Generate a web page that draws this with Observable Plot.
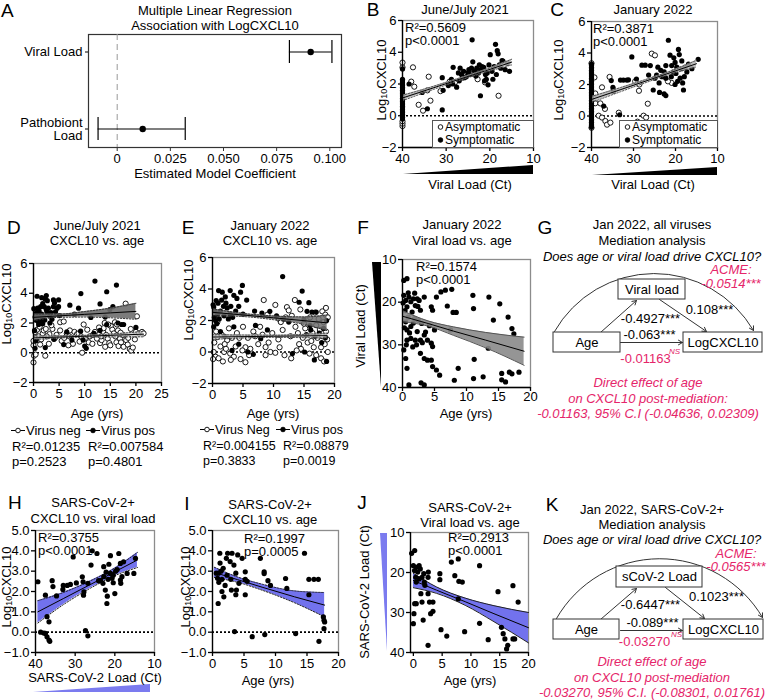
<!DOCTYPE html>
<html><head><meta charset="utf-8">
<script src="https://cdn.jsdelivr.net/npm/d3@7"></script>
<script src="https://cdn.jsdelivr.net/npm/@observablehq/plot@0.6"></script>
<style>
html,body{margin:0;padding:0;background:#fff;}
#root{position:relative;width:768px;height:700px;overflow:hidden;font-family:'Liberation Sans',Arial,sans-serif;font-size:13px;color:#000;}
.t{position:absolute;white-space:nowrap;line-height:13px;}
.pink{color:#e5256a;}
.legbox{position:absolute;border:1px solid #555;background:#fff;box-sizing:border-box;font-size:12px;line-height:13px;padding:0 0 0 4px;white-space:nowrap;}
</style></head><body><div id="root"></div>
<script>
const W = 768, H = 700;
const FONT = "'Liberation Sans', Arial, sans-serif";
const root = document.getElementById("root");

// ---------------- DATA ----------------
// Panel A
const predictorsA = ["Viral Load", "Pathobiont Load"];
const predictorLabelsA = ["Viral Load", "Pathobiont\nLoad"];
const estimateA = [0.091, 0.012];
const ciLowA = [0.081, -0.009];
const ciHighA = [0.101, 0.032];

// Panel B: [Ct, log10 CXCL10]
const bSymptomatic = [[38.5,2.0],[35.5,1.47],[34.3,0.44],[30.9,0.37],[30.9,2.4],[30.7,1.6],[29.5,1.9],[28.4,3.05],[28.8,2.3],[28.5,2.0],[27.6,1.8],[27.0,2.2],[26.5,2.6],[26.0,2.8],[25.4,2.46],[25.0,2.7],[24.8,2.9],[24.5,2.6],[24.05,4.78],[23.9,3.4],[23.5,2.8],[23.2,2.5],[23.0,3.0],[22.6,2.7],[22.15,1.26],[22.0,2.9],[21.8,3.1],[21.4,3.05],[21.0,2.6],[20.8,2.3],[20.4,1.95],[20.2,3.2],[19.9,3.85],[19.5,2.8],[19.0,3.1],[18.7,4.5],[18.5,2.6],[18.3,4.1],[18.1,3.9],[17.8,3.2],[17.5,3.0],[17.2,3.47],[17.0,3.45],[16.5,2.9],[16.0,3.3],[15.5,2.8],[26.8,3.0],[24.2,3.0],[22.4,3.2],[21.2,2.2],[19.3,2.3],[20.6,2.7],[25.8,2.4],[27.2,2.7]];
const bAsymptomatic = [[37.6,3.05],[38.0,2.15],[37.3,1.83],[34.0,2.46],[36.3,0.69],[35.3,0.32],[33.6,0.95],[34.3,1.6],[31.3,1.55],[28.0,2.1],[26.2,2.4],[24.0,2.65],[21.1,2.1],[18.0,1.26],[22.8,2.3],[29.2,2.15]];
const bUndetectedSym = [-0.2,-0.1,0.0,0.1,0.2,0.3,0.4,0.5,0.6,0.7,0.8,0.9,1.0,1.1,1.2,1.3,1.4,1.5,1.6,1.7,1.8,1.9,2.0,2.1,2.2,2.3,2.95];
const bUndetectedAsym = [-0.65,-0.5,-0.35,3.05,3.35];

// Panel C
const cSymptomatic = [[37.1,0.63],[35.3,2.25],[34.9,1.82],[34.8,1.7],[34.8,1.57],[33.3,0.08],[33.1,2.28],[32.4,2.28],[31.6,2.28],[31.2,2.3],[30.4,3.75],[29.3,2.35],[28.0,3.23],[27.2,3.23],[26.4,2.6],[26.0,3.2],[25.3,1.65],[24.9,2.4],[24.5,2.6],[23.9,2.1],[23.8,1.5],[23.2,2.5],[22.7,2.8],[22.3,3.2],[22.3,2.4],[21.7,4.81],[21.3,3.86],[20.9,3.2],[20.5,2.8],[20.1,3.4],[20.1,2.0],[19.7,3.1],[19.3,4.23],[19.1,3.9],[18.9,2.4],[18.5,3.5],[18.3,2.1],[18.1,1.65],[17.7,3.1],[17.3,2.8],[16.9,3.3],[16.1,3.0],[14.6,3.6],[22.3,1.3],[22.7,1.4],[21.0,2.5],[19.9,2.7],[18.7,3.0],[17.9,2.5],[23.5,2.9],[24.2,3.1],[20.4,3.7],[19.5,2.2]];
const cAsymptomatic = [[39.3,2.45],[39.1,1.43],[37.5,1.82],[39.1,0.81],[37.9,0.8],[36.8,0.45],[38.3,0.02],[37.5,-0.1],[36.7,-0.32],[36.3,-0.55],[35.5,-0.42],[35.7,2.48],[33.5,0.21],[29.6,2.2],[29.05,-0.36],[28.7,1.6],[28.6,2.0],[27.6,0.02],[27.0,-0.1],[26.6,0.78],[25.65,3.96],[24.9,3.85],[20.9,2.1],[21.8,2.2]];
const cUndetectedSym = [-0.7,-0.6,-0.5,-0.4,-0.3,-0.2,-0.1,0.0,0.1,0.2,0.3,0.4,0.5,0.6,0.7,0.8,0.9,1.0,1.1,1.2,1.3,1.4,1.5,1.6,1.7,1.8,1.9,2.0,2.1,2.2,2.3,2.4,2.5,2.6,2.7,2.8,2.9,3.0,3.1,3.2,3.3];
const cUndetectedAsym = [-0.75,3.35];

// Panel D: [age, log10 CXCL10]
const dVirusPos = [[0.06,2.96],[0.3,2.4],[0.6,2.7],[0.8,3.0],[1.2,2.5],[1.3,2.05],[1.4,3.1],[1.6,2.6],[1.8,3.3],[2.1,3.1],[2.3,3.6],[2.5,2.9],[2.6,2.75],[2.7,3.5],[2.9,3.0],[3.1,2.5],[3.6,2.25],[3.9,3.1],[4.1,3.35],[4.3,2.75],[4.6,3.0],[4.9,3.1],[5.1,2.5],[0.7,3.8],[1.6,3.7],[2.5,3.85],[3.9,3.55],[4.9,3.55],[0.4,2.2],[0.9,2.3],[1.0,1.9],[1.5,2.2],[2.0,2.4],[0.2,1.5],[0.5,0.8],[0.3,0.3],[1.8,1.95],[2.3,0.35],[4.0,0.9],[5.9,0.55],[6.5,1.4],[7.5,0.85],[7.1,3.2],[8.8,3.0],[9.2,1.45],[9.25,3.98],[9.7,0.85],[10.0,0.45],[10.3,0.3],[11.2,2.37],[12.0,4.82],[13.0,3.28],[14.3,4.1],[14.9,2.9],[15.5,3.1],[16.2,4.55],[16.5,2.0],[17.2,1.9],[17.6,1.9],[20.0,1.7],[14.0,2.4],[14.3,1.9],[13.0,1.5],[3.2,2.0],[1.1,2.8],[0.4,2.6],[0.9,2.1],[3.4,2.7],[2.2,2.2],[8.0,2.6],[11.8,1.3]];
const dVirusNeg = [[0.0,-0.65],[0.1,-0.2],[0.4,-0.12],[2.3,-0.2],[0.0,0.5],[0.0,0.8],[0.3,1.4],[0.7,1.55],[1.2,1.75],[1.8,1.3],[3.1,1.25],[3.7,1.6],[4.0,0.95],[4.5,1.2],[5.2,2.05],[5.9,2.1],[5.2,1.5],[6.5,1.3],[7.1,1.5],[8.0,1.4],[8.5,1.25],[9.0,0.75],[9.5,0.0],[10.0,0.95],[10.5,1.55],[11.0,1.1],[11.6,1.2],[12.4,0.95],[13.0,0.65],[13.3,0.85],[13.6,1.4],[13.7,1.65],[13.9,2.0],[14.2,1.2],[14.5,0.95],[14.8,0.65],[15.1,1.8],[15.4,1.55],[15.7,1.3],[16.0,1.1],[16.2,0.7],[16.6,0.45],[16.9,0.95],[17.1,0.7],[17.5,1.2],[17.6,0.4],[18.0,3.3],[18.1,0.85],[18.4,0.55],[18.8,0.25],[19.1,0.15],[19.4,0.35],[20.0,1.4],[20.2,2.45],[20.6,1.3],[21.2,1.4],[21.5,1.3],[0.5,1.0],[1.0,1.1],[1.5,0.9],[2.0,1.5],[2.6,1.1],[3.0,0.6],[3.5,1.85],[4.2,1.0],[5.5,0.8],[6.0,1.0],[7.0,1.1],[7.7,0.6],[8.8,1.3],[9.8,1.9],[10.8,0.7],[11.5,0.6],[12.0,1.4],[12.8,1.7],[14.0,0.4],[15.0,0.5],[16.5,1.5],[17.0,1.35],[18.5,1.0],[19.0,1.6],[19.8,0.9],[13.2,1.1],[14.6,1.9],[15.9,2.05],[16.3,1.9],[9.3,1.1],[6.8,0.5],[2.4,1.6],[1.3,0.55]];

// Panel E
const eVirusPos = [[0.2,2.85],[0.6,3.27],[1.0,3.9],[1.6,3.8],[2.1,3.5],[2.9,3.9],[3.5,3.6],[4.0,3.4],[4.6,3.8],[4.9,4.23],[5.6,3.3],[0.8,2.4],[1.3,2.6],[1.9,2.3],[2.4,2.8],[2.9,2.4],[0.2,1.6],[1.3,1.3],[3.5,1.6],[6.9,2.6],[0.1,3.0],[0.4,2.6],[0.5,2.0],[0.9,3.1],[1.1,2.1],[1.5,3.3],[1.8,2.9],[2.2,3.1],[2.6,2.1],[3.0,2.9],[3.3,2.2],[3.8,2.6],[4.3,2.9],[5.0,2.4],[5.8,0.0],[6.7,-0.15],[7.05,1.69],[7.9,0.84],[8.1,2.47],[9.4,2.58],[11.5,4.79],[11.7,2.1],[13.1,-0.1],[14.2,3.16],[14.7,3.87],[15.0,2.05],[15.1,0.0],[15.5,2.58],[15.8,3.13],[16.0,1.68],[16.3,2.54],[16.7,-0.5],[17.0,2.54],[18.7,2.0],[18.7,-0.6],[17.5,1.2],[16.8,1.0],[18.2,1.5],[18.5,0.9],[17.9,0.6],[16.1,1.4],[15.4,1.1],[12.5,1.9],[10.5,2.3],[9.0,1.4],[0.3,2.2],[0.7,1.8],[2.0,1.0],[4.3,0.5],[3.2,0.1]];
const eVirusNeg = [[0.2,0.0],[0.5,-0.3],[1.0,-0.4],[1.3,0.35],[1.9,0.0],[2.9,-0.1],[3.5,-0.3],[4.6,-0.45],[5.4,-0.65],[0.8,0.95],[2.4,0.75],[3.8,0.35],[4.0,1.2],[5.4,0.3],[6.7,1.3],[0.8,1.9],[0.3,0.6],[0.6,1.3],[1.5,1.1],[2.0,0.5],[2.7,1.5],[3.2,0.9],[4.4,0.9],[5.0,1.6],[5.8,0.9],[6.2,0.2],[7.0,1.0],[7.5,0.5],[8.4,3.3],[8.7,0.31],[8.7,-0.2],[9.0,2.37],[9.5,0.0],[10.3,-0.05],[10.3,2.99],[10.9,2.1],[11.0,0.3],[12.0,2.2],[12.2,2.85],[12.5,2.64],[12.9,-0.4],[13.5,3.3],[14.2,0.5],[14.5,0.2],[15.9,-0.1],[17.4,2.1],[17.8,-0.4],[17.8,0.3],[18.0,2.58],[18.3,-0.6],[18.5,2.37],[18.9,0.0],[7.8,1.6],[8.2,1.1],[9.8,1.2],[10.8,0.8],[11.5,1.4],[12.8,1.0],[13.6,1.6],[14.0,1.2],[14.8,0.9],[15.2,1.5],[15.6,0.6],[16.0,2.2],[16.4,1.2],[16.6,0.3],[17.0,1.7],[17.2,0.9],[17.6,1.4],[18.0,1.0],[18.2,1.9],[18.4,0.5],[18.6,1.3],[18.8,0.8],[17.0,-0.2],[16.2,0.7],[15.0,1.8],[13.8,0.1],[11.8,-0.2],[9.2,0.6],[6.0,-0.2],[3.0,-0.5],[1.7,-0.6],[0.1,-0.45],[4.9,0.1],[2.2,0.2],[11.2,1.9],[13.0,2.3],[14.4,2.7],[16.8,2.5],[18.9,2.2],[18.6,2.8]];

// Panel F: [age, Ct]
const fAgeCt = [[0.2,14.9],[0.7,14.5],[0.2,18.4],[0.5,19.6],[0.7,21.1],[1.0,18.8],[1.3,19.9],[1.7,19.2],[2.0,20.8],[2.3,19.2],[2.6,19.6],[2.8,21.9],[3.4,18.8],[0.5,24.6],[0.7,26.5],[1.3,25.7],[1.7,24.9],[2.3,26.9],[2.8,28.9],[3.4,27.7],[3.9,28.9],[4.5,29.6],[4.7,30.4],[0.7,28.9],[1.3,28.5],[2.0,28.9],[2.8,32.0],[3.4,33.2],[3.9,33.6],[0.2,31.2],[0.5,33.2],[0.7,35.5],[1.0,39.4],[2.9,38.9],[3.4,39.4],[4.5,33.6],[4.7,35.1],[5.3,35.9],[5.8,37.1],[4.5,21.1],[4.7,21.9],[5.3,18.8],[6.0,17.6],[6.7,17.2],[7.7,17.0],[7.0,20.9],[7.9,22.4],[8.4,22.4],[7.5,26.5],[8.1,38.3],[8.7,35.5],[11.0,18.4],[11.1,21.5],[11.2,33.4],[11.1,37.9],[12.6,37.5],[13.4,30.8],[13.5,18.8],[14.2,24.2],[15.2,20.4],[15.5,36.7],[15.5,38.2],[16.5,23.5],[17.1,26.2],[17.4,27.4],[16.7,36.4],[17.1,36.8],[18.2,36.4],[16.1,38.7],[0.1,20.2],[0.4,22.0],[0.9,23.5],[1.5,22.3],[1.9,23.8],[2.5,24.3],[3.0,25.0],[0.3,26.0],[1.1,27.2],[1.6,30.5],[2.2,30.0],[3.1,29.5],[3.6,27.0],[0.9,17.8],[1.9,17.9],[2.4,21.0],[0.6,30.0],[4.2,25.5],[5.0,26.5]];

// Panel H: [Ct, log10 CXCL10]
const hCtCxcl = [[39.4,2.48],[38.7,0.0],[37.9,-0.04],[37.5,1.82],[37.1,0.76],[36.6,0.51],[37.5,-0.06],[37.1,-0.23],[36.6,-0.39],[36.4,-0.45],[35.8,2.53],[35.6,2.24],[34.7,1.78],[33.0,2.3],[33.1,2.1],[32.0,2.3],[31.2,2.35],[30.5,3.7],[29.7,2.42],[28.2,2.72],[28.0,2.48],[27.8,1.98],[27.9,1.82],[27.4,0.08],[26.8,-0.18],[26.8,2.4],[26.0,3.3],[25.7,4.0],[24.5,3.87],[24.1,2.53],[23.6,2.53],[22.8,3.22],[22.8,2.73],[22.4,2.07],[22.2,2.95],[22.0,1.41],[21.9,1.77],[21.5,3.34],[21.1,3.76],[21.1,2.89],[20.7,2.65],[20.4,2.8],[20.4,2.43],[20.0,1.9],[19.4,3.08],[19.0,3.87],[18.6,3.38],[18.6,2.56],[18.5,2.4],[18.2,2.73],[17.8,3.46],[16.9,2.89],[15.2,2.89],[14.8,3.63],[21.7,2.6],[19.8,3.0],[23.0,2.4]];

// Panel I: [age, log10 CXCL10]
const iAgeCxcl = [[0.9,1.41],[0.95,2.9],[0.8,2.65],[1.16,3.88],[1.2,3.4],[1.35,3.0],[1.5,2.6],[1.5,2.0],[1.7,3.14],[1.8,1.74],[2.0,2.3],[2.2,3.63],[2.3,2.8],[2.4,3.88],[2.8,3.47],[2.9,2.6],[3.0,2.07],[3.1,3.88],[3.4,3.3],[3.7,2.9],[3.8,2.07],[4.0,3.8],[3.5,0.03],[4.2,2.4],[3.7,1.84],[4.7,3.63],[5.2,2.97],[5.2,2.6],[5.2,1.84],[5.5,2.5],[6.3,-0.22],[7.6,3.63],[8.2,2.97],[8.2,2.88],[8.3,-0.12],[8.8,2.53],[9.2,2.3],[11.6,2.64],[11.8,2.15],[13.2,-0.07],[14.6,3.88],[15.3,2.6],[15.3,1.84],[16.1,2.6],[16.8,2.6],[16.9,-0.45],[17.6,0.75],[17.7,0.58],[17.8,0.5],[17.7,0.17],[0.6,2.9],[1.0,2.45]];

// Panel J: [age, Ct]
const jAgeCt = [[-0.3,15.2],[0.23,14.5],[0.0,18.3],[0.2,19.5],[0.4,21.2],[0.5,22.4],[0.5,18.7],[0.75,19.9],[1.0,18.3],[1.0,21.6],[1.2,19.1],[1.5,21.2],[1.8,20.3],[1.9,22.4],[2.0,23.2],[0.23,27.8],[0.1,30.3],[0.0,32.8],[0.5,27.8],[1.3,25.3],[1.5,27.4],[1.7,31.9],[2.55,21.2],[2.55,25.3],[2.8,27.4],[3.0,30.3],[2.55,38.2],[2.6,19.9],[3.4,27.4],[4.6,20.3],[4.6,21.8],[4.8,34.3],[5.8,35.9],[3.4,29.7],[6.6,17.4],[7.8,16.6],[7.8,26.6],[7.2,20.8],[7.9,22.2],[8.5,22.4],[8.9,34.8],[11.5,18.3],[11.5,32.7],[13.0,36.8],[14.7,24.8],[17.3,23.3],[18.2,27.4],[15.6,35.3],[15.9,36.6],[16.4,38.2],[17.3,36.6],[17.6,36.6],[16.2,39.1],[15.3,33.7]];

// Regression fits (x, lower CI, fit, upper CI)
const fitB = [{x:40,lo:0.95,mid:1.12,hi:1.29},{x:33,lo:1.65,mid:1.75,hi:1.85},{x:27.5,lo:2.17,mid:2.25,hi:2.33},{x:21,lo:2.74,mid:2.83,hi:2.92},{x:15,lo:3.2,mid:3.38,hi:3.56}];
const fitC = [{x:40,lo:0.86,mid:1.05,hi:1.24},{x:33,lo:1.55,mid:1.68,hi:1.81},{x:27.5,lo:2.08,mid:2.18,hi:2.28},{x:21,lo:2.67,mid:2.77,hi:2.87},{x:15,lo:3.1,mid:3.32,hi:3.54}];
const fitDPos = [{x:0,lo:2.15,mid:2.38,hi:2.6},{x:5,lo:2.38,mid:2.48,hi:2.6},{x:10,lo:2.4,mid:2.58,hi:2.77},{x:15,lo:2.35,mid:2.68,hi:3.0},{x:20,lo:2.25,mid:2.78,hi:3.32}];
const fitDNeg = [{x:0,lo:0.88,mid:1.0,hi:1.12},{x:10,lo:1.05,mid:1.11,hi:1.17},{x:21.5,lo:1.07,mid:1.25,hi:1.43}];
const fitEPos = [{x:0,lo:2.3,mid:2.52,hi:2.74},{x:5,lo:2.25,mid:2.35,hi:2.45},{x:10,lo:2.05,mid:2.17,hi:2.29},{x:15,lo:1.75,mid:1.99,hi:2.23},{x:18.8,lo:1.35,mid:1.85,hi:2.35}];
const fitENeg = [{x:0,lo:0.8,mid:0.95,hi:1.1},{x:10,lo:0.93,mid:1.0,hi:1.07},{x:18.8,lo:0.88,mid:1.04,hi:1.2}];
const fitF = [{x:0,lo:22.0,mid:23.3,hi:24.6},{x:4,lo:24.4,mid:25.0,hi:25.6},{x:8,lo:25.8,mid:26.8,hi:27.8},{x:13,lo:27.1,mid:28.9,hi:30.7},{x:19,lo:28.2,mid:31.5,hi:34.8}];
const fitH = [{x:39.4,lo:0.45,mid:1.0,hi:1.55},{x:33,lo:1.35,mid:1.65,hi:1.95},{x:26,lo:2.18,mid:2.36,hi:2.54},{x:20,lo:2.78,mid:2.97,hi:3.16},{x:14.3,lo:3.18,mid:3.55,hi:3.92}];
const fitI = [{x:0.3,lo:2.69,mid:2.94,hi:3.19},{x:4,lo:2.45,mid:2.58,hi:2.71},{x:8,lo:2.05,mid:2.2,hi:2.35},{x:13,lo:1.45,mid:1.74,hi:2.03},{x:17.8,lo:0.75,mid:1.33,hi:1.95}];
const fitJ = [{x:0,lo:20.2,mid:22.0,hi:23.8},{x:4,lo:23.6,mid:24.4,hi:25.2},{x:9,lo:26.4,mid:27.3,hi:28.2},{x:14,lo:28.3,mid:30.3,hi:32.3},{x:20,lo:30.0,mid:33.8,hi:37.6}];

// Viral load gradient wedge (decoration)
const loadWedge = [{ct:40,h:0},{ct:10,h:1}];

// Stats text
const statsB = ["R²=0.5609","p<0.0001"];
const statsC = ["R²=0.3871","p<0.0001"];
const statsD = [{label:"Virus neg",r2:"0.01235",p:"0.2523"},{label:"Virus pos",r2:"0.007584",p:"0.4801"}];
const statsE = [{label:"Virus Neg",r2:"0.004155",p:"0.3833"},{label:"Virus pos",r2:"0.08879",p:"0.0019"}];
const statsF = ["R²=0.1574","p<0.0001"];
const statsH = ["R²=0.3755","p<0.0001"];
const statsI = ["R²=0.1997","p=0.0005"];
const statsJ = ["R²=0.2913","p<0.0001"];

// Mediation analyses
const gNodes = ["Age","Viral load","LogCXCL10"];
const gPaths = ["-0.4927***","0.108***","-0.063***"];
const gDirect = "-0.01163";
const gACME = "-0.0514***";
const gCI = "-0.01163, 95% C.I (-0.04636, 0.02309)";
const kNodes = ["Age","sCoV-2 Load","LogCXCL10"];
const kPaths = ["-0.6447***","0.1023***","-0.089***"];
const kDirect = "-0.03270";
const kACME = "-0.0565***";
const kCI = "-0.03270, 95% C.I. (-0.08301, 0.01761)";

// ---------------- HELPERS ----------------
function put(p){
  p.style.position="absolute"; p.style.left="0px"; p.style.top="0px";
  p.style.background="transparent"; p.style.overflow="visible";
  p.style.fontFamily=FONT; p.style.fontSize="13px"; p.style.maxWidth="none";
  root.append(p);
}
function txt(s, x, y, o = {}){
  const d=document.createElement("div");
  d.className="t"+(o.cls?" "+o.cls:"");
  d.innerHTML=s;
  const ax = o.anchor==="start"?0:o.anchor==="end"?-100:-50;
  d.style.left=x+"px"; d.style.top=y+"px";
  d.style.transform=`translate(${ax}%,-50%)`+(o.rot?` rotate(${o.rot}deg)`:"");
  if(o.size) d.style.fontSize=o.size+"px";
  if(o.italic) d.style.fontStyle="italic";
  if(o.align) d.style.textAlign=o.align;
  if(o.lh) d.style.lineHeight=o.lh+"px";
  root.append(d); return d;
}
const pts = a => a.map(([x,y])=>({x,y}));
const col = (x, a) => a.map(y=>({x,y}));
const filled = (data, r=2.6) => Plot.dot(data,{x:"x",y:"y",r,fill:"#000",stroke:"none"});
const open = (data, r=2.6) => Plot.dot(data,{x:"x",y:"y",r,fill:"#fff",stroke:"#000",strokeWidth:0.9});
const zero = () => Plot.ruleY([0],{stroke:"#000",strokeWidth:1.7,strokeDasharray:"2,2"});
function band(fit, fill, edge, dash, opacity=0.85){
  return [
    Plot.areaY(fit,{x:"x",y1:"lo",y2:"hi",fill,fillOpacity:opacity,curve:"monotone-x"}),
    Plot.lineY(fit,{x:"x",y:"lo",stroke:edge,strokeWidth:1,strokeDasharray:dash,curve:"monotone-x"}),
    Plot.lineY(fit,{x:"x",y:"hi",stroke:edge,strokeWidth:1,strokeDasharray:dash,curve:"monotone-x"}),
    Plot.lineY(fit,{x:"x",y:"mid",stroke:"#000",strokeWidth:1})
  ];
}
function scatter(c){
  return Plot.plot({
    width:W, height:H, marginLeft:c.x0, marginRight:W-c.x1, marginTop:c.y0, marginBottom:H-c.y1,
    x:{domain:c.xd,label:null}, y:{domain:c.yd,label:null},
    marks:[
      Plot.frame({stroke:"#8c8c8c",strokeWidth:1.3}),
      ...c.marks,
      Plot.axisX({ticks:c.xt,tickSize:4,tickPadding:c.xpad ?? 2,label:null,strokeWidth:1.3}),
      Plot.axisY({ticks:c.yt,tickSize:4,tickPadding:2,label:null,strokeWidth:1.3}),
      Plot.ruleX([c.xd[0]],{stroke:"#000",strokeWidth:1.3}),
      Plot.ruleY([c.yd[0]],{stroke:"#000",strokeWidth:1.3})
    ]
  });
}
function wedgeH(x0,x1,y0,y1,fill){
  return Plot.plot({width:W,height:H,marginLeft:x0,marginRight:W-x1,marginTop:y0,marginBottom:H-y1,
    x:{domain:[40,10],axis:null}, y:{domain:[0,1],axis:null},
    marks:[Plot.areaY(loadWedge,{x:"ct",y1:0,y2:"h",fill})]});
}
function wedgeV(x0,x1,y0,y1,fill){
  return Plot.plot({width:W,height:H,marginLeft:x0,marginRight:W-x1,marginTop:y0,marginBottom:H-y1,
    x:{domain:[1,0],axis:null}, y:{domain:[40,10],axis:null},
    marks:[Plot.areaX(loadWedge,{y:"ct",x1:0,x2:"h",fill})]});
}
const sym = (fillc, line) => `<svg width="${line?14:7}" height="8" style="vertical-align:0px;margin-right:1px">${line?'<line x1="0" y1="4" x2="14" y2="4" stroke="#000" stroke-width="1"/>':''}<circle cx="${line?7:3.5}" cy="4" r="2.3" fill="${fillc}" stroke="#000" stroke-width="0.9"/></svg>`;
const LOG = "Log<sub style='font-size:9px;vertical-align:-1px'>10</sub>CXCL10";
function legendBox(x, y, w, h){
  const d=document.createElement("div");d.className="legbox";
  Object.assign(d.style,{left:x+"px",top:y+"px",width:w+"px",height:h+"px"});
  d.innerHTML=sym("#fff",false)+"Asymptomatic<br>"+sym("#000",false)+"Symptomatic";
  root.append(d);
}

// ---------------- PANEL A ----------------
const coefA = predictorsA.map((name,i)=>({name,est:estimateA[i],lo:ciLowA[i],hi:ciHighA[i]}));
put(Plot.plot({
  width:W,height:H,marginLeft:88,marginRight:W-341,marginTop:34,marginBottom:H-147,
  x:{domain:[-0.0135,0.1055],label:null},
  y:{type:"band",domain:predictorsA,paddingInner:0.7,paddingOuter:0.075,label:null},
  marks:[
    Plot.frame({stroke:"#333",strokeWidth:1.2}),
    Plot.ruleX([0],{stroke:"#999",strokeDasharray:"6,4"}),
    Plot.ruleY(coefA,{y:"name",x1:"lo",x2:"hi",stroke:"#000",strokeWidth:1.2}),
    Plot.tickX(coefA,{x:"lo",y:"name",stroke:"#000",strokeWidth:1.2}),
    Plot.tickX(coefA,{x:"hi",y:"name",stroke:"#000",strokeWidth:1.2}),
    Plot.dot(coefA,{x:"est",y:"name",r:3.2,fill:"#000"}),
    Plot.axisX({ticks:[0,0.025,0.05,0.075,0.1],tickFormat:d=>d===0?"0":d.toFixed(3),tickSize:4,tickPadding:2,label:null,stroke:"#333"}),
    Plot.axisY({tickSize:3,tickPadding:3,label:null,tickFormat:d=>predictorLabelsA[predictorsA.indexOf(d)],lineHeight:1.05})
  ]
}));
txt("A",1,11,{anchor:"start",size:19,lh:20});
txt("Multiple Linear Regression",215,10);
txt("Association with LogCXCL10",215,25);
txt("Estimated Model Coefficient",215,173);

// ---------------- PANEL B ----------------
put(scatter({x0:402,x1:533,y0:20,y1:147,xd:[40,10],yd:[-2,6],xt:[40,30,20,10],yt:[-2,0,2,4,6],
  marks:[zero(), open(pts(bAsymptomatic)), filled(pts(bSymptomatic)),
    open(col(40,bUndetectedAsym)), filled(col(40,bUndetectedSym)),
    ...band(fitB,"#b0b0b0","#555","1.5,1.5")]}));
put(wedgeH(403,533,165,174,"#000"));
txt("B",373,10,{size:19,lh:20});
txt("June/July 2021",465,9);
txt(LOG,383,80,{rot:-90});
txt(statsB.join("<br>"),405,34,{anchor:"start",lh:13});
txt("Viral Load (Ct)",470,184);
legendBox(432,120,102,28);

// ---------------- PANEL C ----------------
put(scatter({x0:591,x1:717,y0:21,y1:147,xd:[40,10],yd:[-2,6],xt:[40,30,20,10],yt:[-2,0,2,4,6],
  marks:[zero(), open(pts(cAsymptomatic)), filled(pts(cSymptomatic)),
    open(col(40,cUndetectedAsym)), filled(col(40,cUndetectedSym)),
    ...band(fitC,"#b0b0b0","#555","1.5,1.5")]}));
put(wedgeH(592,717,167,175,"#000"));
txt("C",557,10,{size:19,lh:20});
txt("January 2022",653,9);
txt(LOG,560,80,{rot:-90});
txt(statsC.join("<br>"),593,35,{anchor:"start",lh:13});
txt("Viral Load (Ct)",653,184);
legendBox(619,120,99,28);

// ---------------- PANEL D ----------------
put(scatter({x0:33,x1:161,y0:263,y1:382,xd:[0,25],yd:[-2,6],xt:[0,5,10,15,20,25],yt:[-2,0,2,4,6],
  marks:[zero(), open(pts(dVirusNeg)), filled(pts(dVirusPos)),
    ...band(fitDNeg,"#c8c8c8","#444","1.5,1.5",0.8),
    ...band(fitDPos,"#6e6e6e","#333","1.5,1.5",0.9)]}));
txt("D",7,228,{size:19,anchor:"start",lh:20});
txt("June/July 2021",97,225);
txt("CXCL10 vs. age",97,240);
txt(LOG,8,304,{rot:-90});
txt("Age (yrs)",97,413);
txt(sym("#fff",true)+statsD[0].label,11,430,{anchor:"start"});
txt(sym("#000",true)+statsD[1].label,86,430,{anchor:"start"});
txt(`R²=${statsD[0].r2}<br>p=${statsD[0].p}`,12,454,{anchor:"start",align:"left",lh:15});
txt(`R²=${statsD[1].r2}<br>p=${statsD[1].p}`,88,454,{anchor:"start",align:"left",lh:15});

// ---------------- PANEL E ----------------
put(scatter({x0:212,x1:334,y0:257,y1:383,xd:[0,20],yd:[-2,6],xt:[0,5,10,15,20],yt:[-2,0,2,4,6],
  marks:[zero(), open(pts(eVirusNeg)), filled(pts(eVirusPos)),
    ...band(fitENeg,"#c8c8c8","#444","1.5,1.5",0.8),
    ...band(fitEPos,"#6e6e6e","#333","1.5,1.5",0.85)]}));
txt("E",188,228,{size:19,lh:20});
txt("January 2022",270,225);
txt("CXCL10 vs. age",270,240);
txt(LOG,190,300,{rot:-90});
txt("Age (yrs)",273,413);
txt(sym("#fff",true)+statsE[0].label,200,430,{anchor:"start",size:12.5});
txt(sym("#000",true)+statsE[1].label,276,430,{anchor:"start",size:12.5});
txt(`R²=${statsE[0].r2}<br>p=${statsE[0].p}`,203,454,{anchor:"start",align:"left",size:12.5,lh:15});
txt(`R²=${statsE[1].r2}<br>p=${statsE[1].p}`,283,454,{anchor:"start",align:"left",size:12.5,lh:15});

// ---------------- PANEL F ----------------
put(scatter({x0:402,x1:530,y0:259,y1:387,xd:[0,20],yd:[40,10],xt:[0,5,10,15,20],yt:[10,20,30,40],xpad:0,
  marks:[filled(pts(fAgeCt)), ...band(fitF,"#8a8a8a","#555","none",0.9)]}));
put(wedgeV(372,381,262,387,"#000"));
txt("F",363,228,{size:19,lh:20});
txt("January 2022",462,224);
txt("Viral load vs. age",462,240);
txt("Viral Load (Ct)",360,326,{rot:-90});
txt(statsF.join("<br>"),416,273,{anchor:"start",lh:13});
txt("Age (yrs)",466,413);

// ---------------- PANEL G ----------------
function mediation(L, nodes, paths, direct){
  const boxes = nodes.map((n,i)=>({...L.boxes[i],label:n}));
  const labels = paths.map((p,i)=>({...L.labels[i],label:p}));
  return Plot.plot({width:W,height:H,margin:0,
    x:{domain:[0,W],range:[0,W],axis:null}, y:{domain:[0,H],range:[0,H],axis:null},
    marks:[
      Plot.arrow([L.arc],{x1:"x1",y1:"y1",x2:"x2",y2:"y2",bend:60,headLength:7,stroke:"#333",strokeWidth:1}),
      Plot.arrow(L.arrows,{x1:"x1",y1:"y1",x2:"x2",y2:"y2",headLength:7,stroke:"#333",strokeWidth:1}),
      Plot.rect(boxes,{x1:"x1",x2:"x2",y1:"y1",y2:"y2",fill:"#fff",stroke:"#333",strokeWidth:1}),
      Plot.text(boxes,{x:d=>(d.x1+d.x2)/2,y:d=>(d.y1+d.y2)/2,text:"label",fontSize:13}),
      Plot.text(labels,{x:"x",y:"y",text:"label",fontSize:13}),
      Plot.text([direct],{x:L.direct.x,y:L.direct.y,text:d=>d,fill:"#e5256a",fontSize:13}),
      Plot.text(["NS"],{x:L.ns.x,y:L.ns.y,text:d=>d,fill:"#e5256a",fontSize:8,fontStyle:"italic"})
    ]});
}
const gLayout = {
  boxes:[{x1:553,x2:620,y1:332,y2:352},{x1:618,x2:685,y1:279,y2:299},{x1:683,x2:762,y1:332,y2:352}],
  arrows:[{x1:600,y1:332,x2:636,y2:300},{x1:659,y1:299,x2:706,y2:331},{x1:620,y1:342,x2:682,y2:342}],
  arc:{x1:554,y1:331,x2:753,y2:330},
  labels:[{x:650,y:318},{x:709,y:309},{x:649,y:334}],
  direct:{x:645,y:358}, ns:{x:674,y:351}
};
put(mediation(gLayout,gNodes,gPaths,gDirect));
txt("G",545,228,{size:19,lh:20});
txt("Jan 2022, all viruses",652,224);
txt("Mediation analysis",652,240);
txt("Does age or viral load drive CXCL10?",652,256,{italic:true});
txt("ACME:",731,270,{italic:true,cls:"pink",lh:12});
txt(gACME,731,284,{italic:true,cls:"pink",lh:12});
txt("Direct effect of age",648,382,{italic:true,cls:"pink"});
txt("on CXCL10 post-mediation:",648,398,{italic:true,cls:"pink"});
txt(gCI,648,413,{italic:true,cls:"pink"});

// ---------------- PANEL H ----------------
put(scatter({x0:35,x1:154,y0:530,y1:652,xd:[40,10],yd:[-1,5],xt:[40,30,20,10],yt:[-1,0,1,2,3,4,5],
  marks:[zero(), ...band(fitH,"#6a6aec","#222","1.5,1.5",0.95), filled(pts(hCtCxcl))]}));
put(wedgeH(33,150,684,692,"#7b7bef"));
txt("H",8,503,{size:19,anchor:"start",lh:20});
txt("SARS-CoV-2+",93,502);
txt("CXCL10 vs. viral load",93,518);
txt(LOG,8,587,{rot:-90});
txt(statsH.join("<br>"),38,544,{anchor:"start",lh:13});
txt("SARS-CoV-2 Load (Ct)",95,677);

// ---------------- PANEL I ----------------
put(scatter({x0:212,x1:338,y0:530,y1:652,xd:[0,20],yd:[-1,5],xt:[0,5,10,15,20],yt:[-1,0,1,2,3,4,5],
  marks:[zero(), ...band(fitI,"#6a6aec","#222","1.5,1.5",0.95), filled(pts(iAgeCxcl))]}));
txt("I",187,504,{size:19,lh:20});
txt("SARS-CoV-2+",270,504);
txt("CXCL10 vs. age",270,519);
txt(LOG,187,587,{rot:-90});
txt(statsI.join("<br>"),244,545,{anchor:"start",lh:13});
txt("Age (yrs)",268,680);

// ---------------- PANEL J ----------------
put(scatter({x0:410,x1:528,y0:532,y1:652,xd:[-0.5,20],yd:[40,10],xt:[0,5,10,15,20],yt:[10,20,30,40],
  marks:[...band(fitJ,"#6a6aec","#222","none",0.95), filled(pts(jAgeCt))]}));
put(wedgeV(380,387,533,651,"#7b7bef"));
txt("J",362,503,{size:19,lh:20});
txt("SARS-CoV-2+",470,507);
txt("Viral load vs. age",470,522);
txt("SARS-CoV-2 Load (Ct)",364,592,{rot:-90});
txt(statsJ.join("<br>"),448,544,{anchor:"start",lh:13});
txt("Age (yrs)",470,680);

// ---------------- PANEL K ----------------
const kLayout = {
  boxes:[{x1:553,x2:619,y1:619,y2:639},{x1:616,x2:702,y1:566,y2:587},{x1:683,x2:763,y1:619,y2:639}],
  arrows:[{x1:600,y1:619,x2:636,y2:588},{x1:665,y1:587,x2:704,y2:618},{x1:620,y1:630,x2:682,y2:630}],
  arc:{x1:556,y1:618,x2:762,y2:617},
  labels:[{x:650,y:604},{x:716,y:596},{x:652,y:622}],
  direct:{x:644,y:641}, ns:{x:676,y:634}
};
put(mediation(kLayout,kNodes,kPaths,kDirect));
txt("K",552,505,{size:19,lh:20});
txt("Jan 2022, SARS-CoV-2+",652,509);
txt("Mediation analysis",652,524);
txt("Does age or viral load drive CXCL10?",652,539,{italic:true});
txt("ACME:",736,554,{italic:true,cls:"pink",lh:12});
txt(kACME,736,567,{italic:true,cls:"pink",lh:12});
txt("Direct effect of age",652,661,{italic:true,cls:"pink"});
txt("on CXCL10 post-mediation",652,677,{italic:true,cls:"pink"});
txt(kCI,652,692,{italic:true,cls:"pink"});
</script></body></html>
